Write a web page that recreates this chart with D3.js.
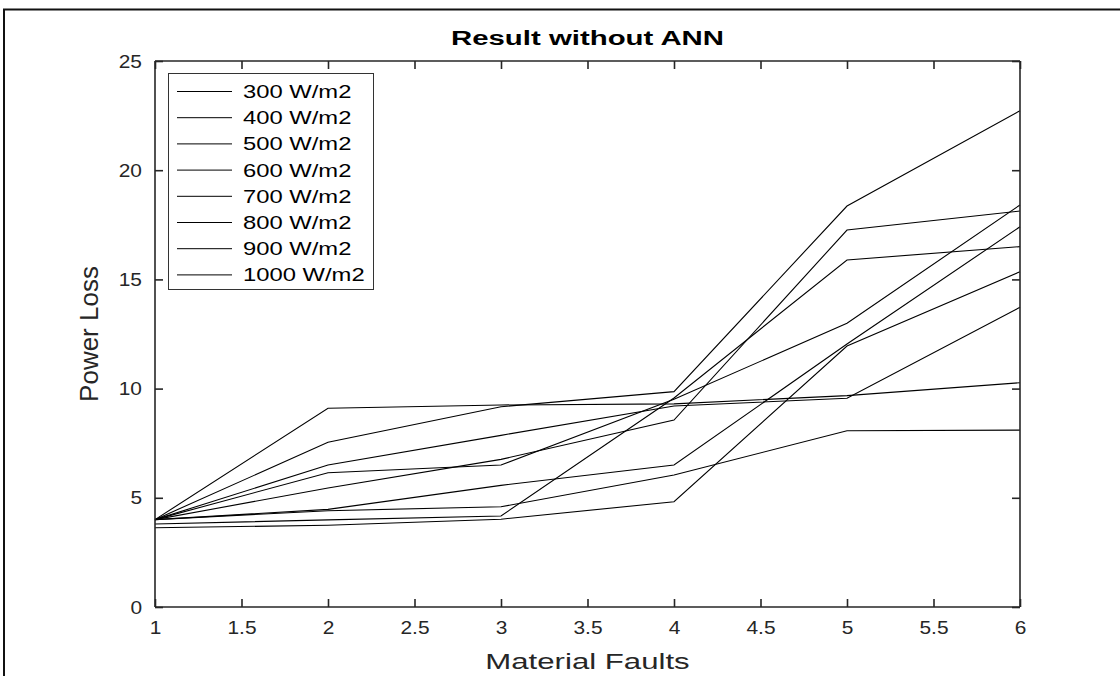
<!DOCTYPE html>
<html><head><meta charset="utf-8">
<script src="https://cdn.jsdelivr.net/npm/d3@7"></script>
<style>body{margin:0;background:#fff;overflow:hidden}text{font-family:"Liberation Sans",Arial,Helvetica,sans-serif}</style>
</head><body><svg id="c" width="1120" height="676"></svg>
<script>
// ---- data ----
const xValues = [1, 2, 3, 4, 5, 6];
const line1 = [4.00, 9.10, 9.25, 9.30, 9.68, 10.27];
const line2 = [4.00, 7.54, 9.17, 9.86, 18.36, 22.72];
const line3 = [4.00, 6.50, 7.86, 9.20, 9.56, 13.72];
const line4 = [4.00, 6.15, 6.50, 9.51, 12.99, 18.41];
const line5 = [4.00, 5.45, 6.76, 8.56, 17.26, 18.13];
const line6 = [4.00, 4.47, 5.57, 6.50, 12.04, 17.41];
const line7 = [4.00, 4.41, 4.59, 6.04, 8.07, 8.10];
const line8 = [3.80, 3.99, 4.17, 9.57, 15.89, 16.50];
const line9 = [3.63, 3.74, 4.02, 4.82, 11.95, 15.35];
const allLines = [line1, line2, line3, line4, line5, line6, line7, line8, line9];
const legendLabels = ["300 W/m2", "400 W/m2", "500 W/m2", "600 W/m2", "700 W/m2", "800 W/m2", "900 W/m2", "1000 W/m2"];
const xTicks = [1, 1.5, 2, 2.5, 3, 3.5, 4, 4.5, 5, 5.5, 6];
const yTicks = [0, 5, 10, 15, 20, 25];
const titleText = "Result without ANN";
const xLabel = "Material Faults";
const yLabel = "Power Loss";

// ---- layout ----
const L = 155, R = 1020, T = 61, B = 607;
const axisColor = "#262626";
const svg = d3.select("#c");

// outer frame
svg.append("path").attr("d", "M4,676 L4,9.5 L1120,9.5").attr("fill", "none").attr("stroke", "#111").attr("stroke-width", 2);

const x = d3.scaleLinear().domain([1, 6]).range([L, R]);
const y = d3.scaleLinear().domain([0, 25]).range([B, T]);

// lines
const lineGen = d3.line().x((d, i) => x(xValues[i])).y(d => y(d));
svg.append("g").selectAll("path").data(allLines).join("path")
  .attr("d", lineGen).attr("fill", "none").attr("stroke", "#000").attr("stroke-width", 1.1);

// axes
const tickLen = 8;
const fmt = d => String(d);
const tickSx = 1.1;
const gx = svg.append("g").attr("transform", `translate(0,${B})`)
  .call(d3.axisBottom(x).tickValues(xTicks).tickSize(-tickLen).tickPadding(14).tickFormat(fmt));
const gxt = svg.append("g").attr("transform", `translate(0,${T})`)
  .call(d3.axisTop(x).tickValues(xTicks).tickSize(-tickLen).tickFormat(""));
const gy = svg.append("g").attr("transform", `translate(${L},0)`)
  .call(d3.axisLeft(y).tickValues(yTicks).tickSize(-tickLen).tickPadding(13).tickFormat(fmt));
const gyr = svg.append("g").attr("transform", `translate(${R},0)`)
  .call(d3.axisRight(y).tickValues(yTicks).tickSize(-tickLen).tickFormat(""));
[gx, gxt, gy, gyr].forEach(g => {
  g.select(".domain").attr("stroke", axisColor).attr("stroke-width", 1.6);
  g.selectAll(".tick line").attr("stroke", axisColor).attr("stroke-width", 1.6);
  g.selectAll(".tick text").attr("fill", axisColor).style("font-size", "19px").style("font-family", '"Liberation Sans",Arial,sans-serif');
});
gx.selectAll(".tick text").attr("transform", `scale(${tickSx},1)`);
gy.selectAll(".tick text").attr("x", -13 / tickSx).attr("transform", `scale(${tickSx},1)`);
[gx, gxt].forEach(g => g.select(".domain").attr("d", `M${L},0H${R}`));
[gy, gyr].forEach(g => g.select(".domain").attr("d", `M0,${T}V${B}`));

// title and labels (text in the reference is horizontally widened)
svg.append("text").attr("transform", `translate(${(L + R) / 2},45) scale(1.47,1)`).attr("text-anchor", "middle")
  .style("font-weight", "bold").style("font-size", "20px").attr("fill", "#000").text(titleText);
svg.append("text").attr("transform", `translate(${(L + R) / 2},669) scale(1.45,1)`).attr("text-anchor", "middle")
  .style("font-size", "21.5px").attr("fill", axisColor).text(xLabel);
svg.append("text").attr("transform", `translate(98,${(T + B) / 2}) rotate(-90)`).attr("text-anchor", "middle")
  .style("font-size", "26px").attr("fill", axisColor).text(yLabel);

// legend
const lg = svg.append("g");
lg.append("rect").attr("x", 168.5).attr("y", 73.5).attr("width", 205).attr("height", 216)
  .attr("fill", "#fff").attr("stroke", "#333").attr("stroke-width", 1);
legendLabels.forEach((lab, i) => {
  const cy = 91.5 + i * 26.2;
  lg.append("line").attr("x1", 177).attr("x2", 232).attr("y1", cy).attr("y2", cy).attr("stroke", "#000").attr("stroke-width", 1);
  lg.append("text").attr("transform", `translate(243,${cy + 6.5}) scale(1.36,1)`).style("font-size", "17.5px").attr("fill", "#000").text(lab);
});
</script></body></html>
